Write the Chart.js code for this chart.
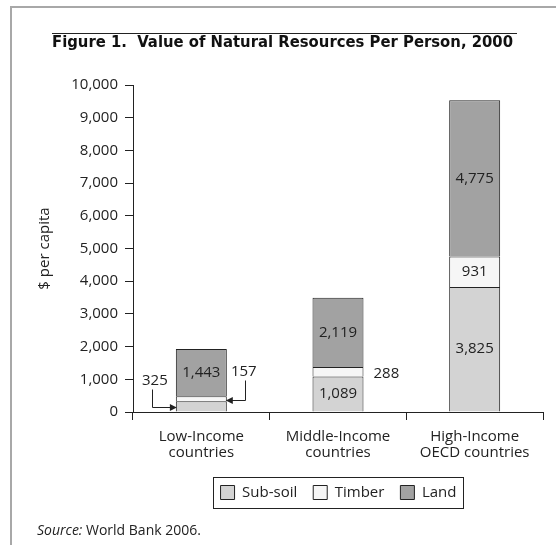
<!DOCTYPE html>
<html>
<head>
<meta charset="utf-8">
<script src="https://cdn.jsdelivr.net/npm/chart.js@4.4.0/dist/chart.umd.min.js"></script>
<style>
  html, body { margin: 0; padding: 0; background: #fff; }
  #wrap { width: 556px; height: 545px; }
</style>
</head>
<body>
<div id="wrap"><canvas id="chart" width="556" height="545"></canvas></div>
<script>
// data
const categories = [['Low-Income', 'countries'], ['Middle-Income', 'countries'], ['High-Income', 'OECD countries']];
const subSoil = [325, 1089, 3825];
const timber = [157, 288, 931];
const land = [1443, 2119, 4775];
const yTicks = [0, 1000, 2000, 3000, 4000, 5000, 6000, 7000, 8000, 9000, 10000];

const titleText = 'Figure 1.  Value of Natural Resources Per Person, 2000';
const INK = '#222';
const FONT = '"Open Sans", "Noto Sans", sans-serif';

// labels that sit outside their bar segment ("datasetIndex-barIndex")
const callouts = {
    '0-0': { side: 'left', arrow: true },
    '1-0': { side: 'right', arrow: true },
    '1-1': { side: 'right', arrow: false }
};

function arrowHead(ctx, x, y, dir) {
    // dir = 1 points right, -1 points left
    ctx.beginPath();
    ctx.moveTo(x, y);
    ctx.lineTo(x - dir * 7, y - 3.5);
    ctx.lineTo(x - dir * 7, y + 3.5);
    ctx.closePath();
    ctx.fill();
}

const decor = {
    id: 'decor',
    afterLayout(chart) {
        // center legend under the plot area
        const ca = chart.chartArea;
        chart.legend.left = ca.left;
        chart.legend.right = ca.right + 1;
    },
    afterDraw(chart) {
        const ctx = chart.ctx;
        ctx.save();

        // frame
        ctx.strokeStyle = '#a8a8a8';
        ctx.lineWidth = 2;
        ctx.beginPath();
        ctx.moveTo(556, 7);
        ctx.lineTo(11, 7);
        ctx.lineTo(11, 545);
        ctx.stroke();

        // title + rule above it
        ctx.strokeStyle = INK;
        ctx.lineWidth = 1;
        ctx.beginPath();
        ctx.moveTo(52, 33.5);
        ctx.lineTo(517, 33.5);
        ctx.stroke();
        ctx.fillStyle = '#111';
        ctx.font = 'bold 15px "DejaVu Sans Condensed", "DejaVu Sans", sans-serif';
        ctx.textBaseline = 'alphabetic';
        ctx.textAlign = 'left';
        const tw = ctx.measureText(titleText).width;
        ctx.save();
        ctx.translate(52, 47);
        ctx.scale(461 / tw, 1);
        ctx.fillText(titleText, 0, 0);
        ctx.restore();

        // source
        ctx.fillStyle = INK;
        ctx.font = 'italic 14px ' + FONT;
        ctx.fillText('Source:', 37, 535);
        const sw = ctx.measureText('Source:').width;
        ctx.font = '14px ' + FONT;
        ctx.fillText(' World Bank 2006.', 37 + sw, 535);

        // legend border
        const hb = chart.legend.legendHitBoxes;
        if (hb && hb.length) {
            const l = hb[0].left - 8;
            const r = hb[hb.length - 1].left + hb[hb.length - 1].width + 6;
            const t = hb[0].top - 8;
            const b = hb[0].top + 15 + 8;
            ctx.strokeStyle = INK;
            ctx.lineWidth = 1;
            ctx.strokeRect(Math.round(l) + 0.5, Math.round(t) + 0.5, Math.round(r - l), Math.round(b - t));
        }

        // value labels
        ctx.font = '15px ' + FONT;
        ctx.fillStyle = INK;
        ctx.strokeStyle = INK;
        ctx.lineWidth = 1;
        chart.data.datasets.forEach((ds, di) => {
            const meta = chart.getDatasetMeta(di);
            meta.data.forEach((el, bi) => {
                const text = ds.data[bi].toLocaleString('en-US');
                const midY = (el.y + el.base) / 2;
                const left = el.x - el.width / 2;
                const right = el.x + el.width / 2;
                const c = callouts[di + '-' + bi];
                ctx.textBaseline = 'middle';
                if (!c) {
                    ctx.textAlign = 'center';
                    ctx.fillText(text, el.x, midY);
                } else if (!c.arrow) {
                    ctx.textAlign = 'left';
                    ctx.fillText(text, right + 10, midY + 2);
                } else if (c.side === 'left') {
                    const lx = Math.round(left - 24) + 0.5;
                    const ay = Math.round(midY + 1) + 0.5;
                    ctx.textAlign = 'center';
                    ctx.fillText(text, left - 21, ay - 27);
                    ctx.beginPath();
                    ctx.moveTo(lx, ay - 18);
                    ctx.lineTo(lx, ay);
                    ctx.lineTo(left - 2, ay);
                    ctx.stroke();
                    arrowHead(ctx, left + 1, ay, 1);
                } else {
                    const lx = Math.round(right + 18) + 0.5;
                    const ay = Math.round(midY + 1) + 0.5;
                    ctx.textAlign = 'center';
                    ctx.fillText(text, right + 17, ay - 29);
                    ctx.beginPath();
                    ctx.moveTo(lx, ay - 20);
                    ctx.lineTo(lx, ay);
                    ctx.lineTo(right + 2, ay);
                    ctx.stroke();
                    arrowHead(ctx, right - 1, ay, -1);
                }
            });
        });
        ctx.restore();
    }
};

Chart.defaults.font.family = FONT;
Chart.defaults.font.size = 15;
Chart.defaults.color = INK;

function barSet(label, data, color) {
    return {
        label,
        data,
        backgroundColor: color,
        borderColor: INK,
        borderWidth: 1,
        borderSkipped: 'start',
        barPercentage: 0.373,
        categoryPercentage: 1.0
    };
}

new Chart(document.getElementById('chart'), {
    type: 'bar',
    data: {
        labels: categories,
        datasets: [
            barSet('Sub-soil', subSoil, '#d3d3d3'),
            barSet('Timber', timber, '#f6f6f6'),
            barSet('Land', land, '#a2a2a2')
        ]
    },
    options: {
        responsive: false,
        devicePixelRatio: 1,
        animation: false,
        layout: { padding: { top: 85, left: 0, right: 13, bottom: 35 } },
        plugins: {
            title: { display: false },
            tooltip: { enabled: false },
            legend: {
                position: 'bottom',
                labels: {
                    boxWidth: 14,
                    boxHeight: 14,
                    padding: 16,
                    color: INK,
                    font: { size: 15 }
                }
            }
        },
        scales: {
            x: {
                stacked: true,
                ticks: {
                    color: INK,
                    padding: 8,
                    maxRotation: 0,
                    autoSkip: false,
                    font: { size: 15, lineHeight: 1.1 }
                },
                grid: { drawOnChartArea: false, drawTicks: true, tickLength: 8, color: INK, offset: true },
                border: { display: true, color: INK, width: 1 },
                afterFit: (s) => { s.height = 57; }
            },
            y: {
                stacked: true,
                min: 0,
                max: 10000,
                afterBuildTicks: (s) => { s.ticks = yTicks.map(v => ({ value: v })); },
                ticks: {
                    color: INK,
                    padding: 7,
                    font: { size: 15 },
                    callback: (v) => v.toLocaleString('en-US')
                },
                grid: { drawOnChartArea: false, drawTicks: true, tickLength: 8, color: INK },
                border: { display: true, color: INK, width: 1 },
                title: {
                    display: true,
                    text: '$ per capita',
                    color: INK,
                    font: { size: 15 },
                    padding: { top: 36, bottom: 0 }
                },
                afterFit: (s) => { s.width = 133; }
            }
        }
    },
    plugins: [decor]
});
</script>
</body>
</html>
